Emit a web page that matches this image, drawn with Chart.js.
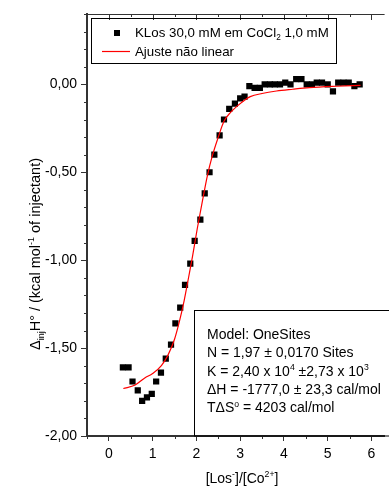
<!DOCTYPE html>
<html>
<head>
<meta charset="utf-8">
<script src="https://cdn.jsdelivr.net/npm/chart.js@4"></script>
<style>
  body { margin: 0; background: #fff; }
  canvas { display: block; }
</style>
</head>
<body>
<canvas id="chart" width="389" height="489"></canvas>
<script>
// injection data
const injX = [0.32, 0.45, 0.54, 0.66, 0.76, 0.87, 0.98, 1.08, 1.19, 1.30, 1.42, 1.52, 1.63, 1.74, 1.86, 1.96,
  2.09, 2.19, 2.30, 2.41, 2.53, 2.63, 2.75, 2.88, 3.00, 3.10, 3.21, 3.33, 3.45, 3.56, 3.68, 3.79,
  3.91, 4.03, 4.15, 4.28, 4.40, 4.52, 4.64, 4.75, 4.87, 5.00, 5.12, 5.24, 5.36, 5.48, 5.61, 5.73];
const injY = [-1.61, -1.61, -1.69, -1.74, -1.80, -1.78, -1.76, -1.69, -1.64, -1.56, -1.48, -1.36, -1.27, -1.14, -1.02, -0.89,
  -0.77, -0.62, -0.50, -0.40, -0.29, -0.20, -0.14, -0.11, -0.08, -0.07, -0.01, -0.02, -0.02, 0.00, 0.00, 0.00,
  0.00, 0.01, 0.00, 0.03, 0.03, 0.00, 0.00, 0.01, 0.01, 0.00, -0.04, 0.01, 0.01, 0.01, -0.01, 0.00];

// fitted curve
const fitX = [0.33, 0.60, 0.82, 1.00, 1.20, 1.35, 1.50, 1.62, 1.72, 1.82, 1.91, 2.02, 2.14, 2.25, 2.36,
  2.50, 2.63, 2.78, 2.93, 3.10, 3.23, 3.50, 3.83, 4.20, 4.58, 5.20, 5.75];
const fitY = [-1.73, -1.71, -1.67, -1.645, -1.60, -1.54, -1.45, -1.34, -1.23, -1.10, -0.98, -0.82, -0.66, -0.52, -0.41,
  -0.30, -0.21, -0.16, -0.124, -0.09, -0.07, -0.052, -0.038, -0.028, -0.019, -0.011, -0.006];

const xTicks = [0, 1, 2, 3, 4, 5, 6];
const yTicks = [-2, -1.5, -1, -0.5, 0];
const yTickLabels = ['-2,00', '-1,50', '-1,00', '-0,50', '0,00'];

// text pieces: [text, mode] where mode is '', 'sup' or 'sub'
const legendPoints = [['KLos 30,0 mM em CoCl', ''], ['2', 'sub'], [' 1,0 mM', '']];
const legendFit = [['Ajuste não linear', '']];
const fitLines = [
  [['Model: OneSites', '']],
  [['N = 1,97 ± 0,0170 Sites', '']],
  [['K = 2,40 x 10', ''], ['4', 'sup'], [' ±2,73 x 10', ''], ['3', 'sup']],
  [['ΔH = -1777,0 ± 23,3 cal/mol', '']],
  [['TΔS', ''], ['o', 'sup'], [' = 4203 cal/mol', '']]
];
const xTitle = [['[Los', ''], ['-', 'sup'], [']/[Co', ''], ['2+', 'sup'], [']', '']];
const yTitle = [['Δ', ''], ['inj', 'sub'], ['H° / (kcal mol', ''], ['-1', 'sup'], [' of injectant)', '']];

const fam = 'Arial, "Liberation Sans", sans-serif';
const axisCol = '#333';

function richWidth(ctx, segs, size) {
  let w = 0;
  segs.forEach(([t, m]) => {
    ctx.font = (m ? size * 0.62 : size) + 'px ' + fam;
    w += ctx.measureText(t).width;
  });
  return w;
}

function drawRich(ctx, segs, x, y, size) {
  let cx = x;
  segs.forEach(([t, m]) => {
    ctx.font = (m ? size * 0.62 : size) + 'px ' + fam;
    const dy = m === 'sup' ? -size * 0.4 : m === 'sub' ? size * 0.25 : 0;
    ctx.fillText(t, cx, y + dy);
    cx += ctx.measureText(t).width;
  });
}

const extras = {
  id: 'extras',
  afterDraw(chart) {
    const ctx = chart.ctx;
    const a = chart.chartArea;
    const xs = chart.scales.x, ys = chart.scales.y;
    ctx.save();
    ctx.strokeStyle = axisCol;
    ctx.fillStyle = '#000';
    ctx.textBaseline = 'alphabetic';

    // minor ticks, outward on left/bottom
    ctx.lineWidth = 1;
    ctx.beginPath();
    for (let v = -19; v <= 4; v++) {
      if (v % 5 === 0) continue;
      const py = Math.round(ys.getPixelForValue(v / 10)) + 0.5;
      ctx.moveTo(a.left - 3, py); ctx.lineTo(a.left, py);
    }
    for (let v = -1; v <= 12; v += 2) {
      const px = Math.round(xs.getPixelForValue(v / 2)) + 0.5;
      ctx.moveTo(px, a.bottom); ctx.lineTo(px, a.bottom + 3);
    }
    // top axis with inward ticks
    ctx.moveTo(a.left, a.top + 0.5); ctx.lineTo(a.right, a.top + 0.5);
    for (let v = 0; v <= 12; v++) {
      const px = Math.round(xs.getPixelForValue(v / 2)) + 0.5;
      ctx.moveTo(px, a.top); ctx.lineTo(px, a.top + (v % 2 === 0 ? 6 : 3));
    }
    ctx.stroke();

    // legend
    ctx.strokeStyle = '#000';
    ctx.strokeRect(91.5, 18.5, 245, 45);
    ctx.fillRect(114, 30, 6, 6);
    drawRich(ctx, legendPoints, 135, 37, 13.3);
    ctx.strokeStyle = 'red';
    ctx.lineWidth = 1.2;
    ctx.beginPath(); ctx.moveTo(102, 51.5); ctx.lineTo(130, 51.5); ctx.stroke();
    drawRich(ctx, legendFit, 135, 56, 13.3);

    // fit results box
    ctx.strokeStyle = '#000';
    ctx.lineWidth = 1;
    ctx.strokeRect(194.5, 310.5, 220, a.bottom - 310.5);
    fitLines.forEach((segs, i) => drawRich(ctx, segs, 207, 339 + i * 18.3, 14));

    // axis titles
    const xw = richWidth(ctx, xTitle, 14);
    drawRich(ctx, xTitle, 242 - xw / 2, 483, 14);
    ctx.translate(40, 254);
    ctx.rotate(-Math.PI / 2);
    const yw = richWidth(ctx, yTitle, 14.5);
    drawRich(ctx, yTitle, -yw / 2, 0, 14.5);
    ctx.restore();
  }
};

Chart.defaults.font.family = fam;
Chart.defaults.color = '#000';

const chart = new Chart(document.getElementById('chart'), {
  type: 'scatter',
  data: {
    datasets: [
      {
        label: 'Ajuste não linear',
        data: fitX.map((x, i) => ({ x: x, y: fitY[i] })),
        showLine: true,
        borderColor: 'red',
        borderWidth: 1.2,
        pointRadius: 0,
        cubicInterpolationMode: 'monotone',
        order: 0
      },
      {
        label: 'KLos',
        data: injX.map((x, i) => ({ x: x, y: injY[i] })),
        pointStyle: 'rect',
        pointRadius: 4.4,
        backgroundColor: '#000',
        borderWidth: 0,
        order: 1
      }
    ]
  },
  options: {
    responsive: false,
    animation: false,
    layout: { padding: { top: 14, right: 0, left: 0, bottom: 0 } },
    plugins: { legend: { display: false }, tooltip: { enabled: false } },
    scales: {
      x: {
        type: 'linear',
        min: -0.5,
        max: 6.3,
        afterBuildTicks: s => { s.ticks = xTicks.map(v => ({ value: v })); },
        afterFit: s => { s.height = 53; },
        ticks: { font: { size: 14 }, padding: 5, maxRotation: 0 },
        grid: { drawOnChartArea: false, tickLength: 5, color: axisCol },
        border: { color: axisCol, width: 2 }
      },
      y: {
        min: -2,
        max: 0.4,
        afterBuildTicks: s => { s.ticks = yTicks.map(v => ({ value: v })); },
        afterFit: s => { s.width = 87; },
        ticks: {
          font: { size: 14 },
          padding: 4,
          callback: v => yTickLabels[yTicks.indexOf(v)]
        },
        grid: { drawOnChartArea: false, tickLength: 6, color: axisCol },
        border: { color: axisCol, width: 2 }
      }
    }
  },
  plugins: [extras]
});
</script>
</body>
</html>
